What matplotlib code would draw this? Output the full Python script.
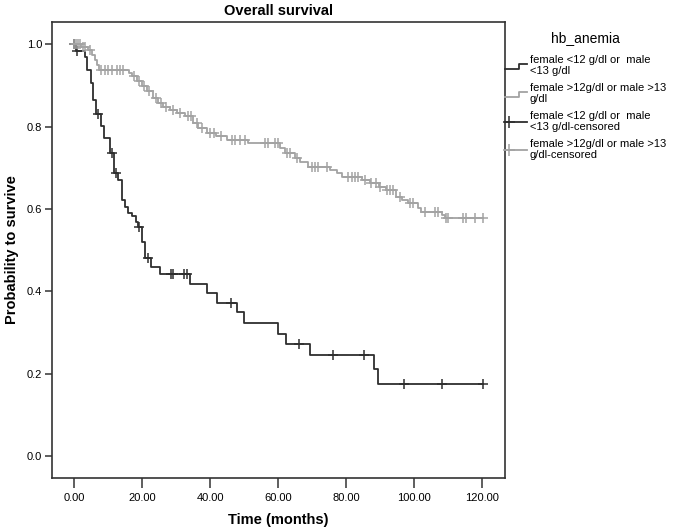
import numpy as np
import matplotlib.pyplot as plt
from matplotlib.lines import Line2D
from matplotlib.legend_handler import HandlerBase

plt.rcParams['font.family'] = ['Liberation Sans', 'DejaVu Sans']

# Kaplan-Meier steps: time of drop and survival after the drop
low_t = [0, 0.6, 3.1, 3.8, 4.8, 5.6, 6.4, 8.0, 8.8, 10.5, 11.7, 12.8, 14.1, 14.9,
         15.9, 16.9, 18.1, 18.8, 19.8, 20.8, 22.7, 25.2, 34.0, 38.9, 42.0, 47.9,
         50.0, 60.0, 62.2, 69.2, 88.1, 89.2]
low_s = [1.0, 0.983, 0.968, 0.938, 0.906, 0.866, 0.831, 0.801, 0.773, 0.736, 0.688,
         0.671, 0.622, 0.606, 0.590, 0.582, 0.569, 0.557, 0.521, 0.481, 0.460, 0.442,
         0.418, 0.396, 0.371, 0.349, 0.323, 0.297, 0.273, 0.245, 0.211, 0.175]
low_cens = [0.0, 0.9, 7.1, 11.0, 12.2, 19.1, 21.7, 28.3, 29.0, 32.4, 33.2, 46.0,
            66.0, 76.1, 85.1, 96.9, 108.0, 120.2]

high_t = [0, 2.0, 4.0, 5.2, 6.0, 6.8, 7.3, 16.0, 17.0, 18.3, 19.8, 21.3, 23.2, 24.7,
          26.2, 28.1, 30.1, 32.5, 35.0, 36.4, 38.9, 41.8, 44.8, 51.1, 60.4, 62.0,
          65.0, 66.5, 68.8, 75.1, 77.1, 78.6, 84.5, 87.0, 89.5, 91.5, 94.7, 96.2,
          98.1, 101.1, 101.8, 108.0, 108.9]
high_s = [1.0, 0.993, 0.985, 0.975, 0.962, 0.950, 0.938, 0.930, 0.922, 0.910, 0.898,
          0.886, 0.870, 0.857, 0.849, 0.841, 0.833, 0.825, 0.809, 0.797, 0.785, 0.777,
          0.768, 0.760, 0.748, 0.735, 0.723, 0.715, 0.703, 0.695, 0.687, 0.679, 0.671,
          0.663, 0.654, 0.646, 0.630, 0.622, 0.614, 0.602, 0.594, 0.586, 0.578]
high_cens = [0.0, 0.5, 1.0, 1.6, 2.6, 3.2, 4.5, 8.0, 9.0, 10.0, 11.0, 12.5, 13.4, 14.4,
             17.5, 19.0, 20.5, 22.0, 24.0, 25.5, 27.0, 29.0, 31.0, 33.5, 34.3, 36.0,
             37.5, 40.0, 41.0, 43.0, 46.3, 47.2, 48.7, 50.2, 56.0, 57.0, 59.0, 60.0,
             62.5, 63.5, 65.5, 69.8, 70.7, 71.7, 74.2, 80.5, 81.5, 82.5, 83.5, 85.6,
             87.2, 88.6, 90.0, 91.8, 92.8, 93.6, 95.7, 98.6, 99.6, 103.1, 106.0, 107.0,
             109.4, 109.9, 114.3, 115.3, 117.8, 120.2]

labels = ['female <12 g/dl or  male\n<13 g/dl',
          'female >12g/dl or male >13\ng/dl',
          'female <12 g/dl or  male\n<13 g/dl-censored',
          'female >12g/dl or male >13\ng/dl-censored']
x_ticks = [0, 20, 40, 60, 80, 100, 120]
y_ticks = [0.0, 0.2, 0.4, 0.6, 0.8, 1.0]

DARK = '#2e2e2e'
LIGHT = '#a3a3a3'


def surv_at(ts, ss, tc):
    idx = np.searchsorted(ts, tc, side='right') - 1
    return np.asarray(ss)[idx]


class StepHandler(HandlerBase):
    def create_artists(self, legend, orig, xd, yd, w, h, fontsize, trans):
        xs = [xd, xd + 0.65 * w, xd + 0.65 * w, xd + w]
        ys = [yd + 0.05 * h, yd + 0.05 * h, yd + 0.65 * h, yd + 0.65 * h]
        ln = Line2D(xs, ys, color=orig.get_color(), lw=orig.get_linewidth(), transform=trans)
        return [ln]


class CensorHandler(HandlerBase):
    def create_artists(self, legend, orig, xd, yd, w, h, fontsize, trans):
        ln = Line2D([xd, xd + w], [yd + 0.45 * h] * 2, color=orig.get_color(),
                    lw=orig.get_linewidth(), transform=trans)
        mk = Line2D([xd + 0.2 * w], [yd + 0.45 * h], marker='+', ms=8, mew=1.1,
                    color=orig.get_color(), ls='none', transform=trans)
        return [ln, mk]


fig = plt.figure(figsize=(6.78, 5.32), dpi=100)
ax = fig.add_axes([0.0767, 0.1015, 0.668, 0.857])

handles = []
for ts, ss, cens, col in [(low_t, low_s, low_cens, DARK), (high_t, high_s, high_cens, LIGHT)]:
    t_end = max(cens)
    line, = ax.step(list(ts) + [t_end], list(ss) + [ss[-1]], where='post', color=col, lw=1.3)
    handles.append(line)
for ts, ss, cens, col in [(low_t, low_s, low_cens, DARK), (high_t, high_s, high_cens, LIGHT)]:
    ax.plot(cens, surv_at(ts, ss, cens), ls='none', marker='+', ms=7, mew=1.1, color=col)
    handles.append(Line2D([], [], color=col, lw=1.3))

ax.set_xlim(-6.55, 126.6)
ax.set_ylim(-0.053, 1.054)
ax.set_xticks(x_ticks)
ax.set_xticklabels(['%.2f' % v for v in x_ticks])
ax.set_yticks(y_ticks)
ax.set_yticklabels(['%.1f' % v for v in y_ticks])
ax.tick_params(axis='x', length=7, width=1.1, color='#333333', labelsize=8, pad=4)
ax.tick_params(axis='y', length=5, width=1.1, color='#333333', labelsize=8, pad=2)
for sp in ax.spines.values():
    sp.set_color('#333333')
    sp.set_linewidth(1.2)

ax.set_title('Overall survival', fontsize=10.5, fontweight='bold', pad=5)
ax.set_xlabel('Time (months)', fontsize=10.5, fontweight='bold', labelpad=7)
ax.set_ylabel('Probability to survive', fontsize=10.5, fontweight='bold', labelpad=6)

leg = ax.legend(handles, labels, title='hb_anemia', loc='upper left',
                bbox_to_anchor=(1.0, 0.98), frameon=False, fontsize=8,
                title_fontsize=10, handlelength=2.0, handletextpad=0.25,
                labelspacing=0.6, borderaxespad=0, borderpad=0,
                handler_map={handles[0]: StepHandler(), handles[1]: StepHandler(),
                             handles[2]: CensorHandler(), handles[3]: CensorHandler()})
leg._legend_box.sep = 7
for txt in leg.get_texts():
    txt.set_linespacing(1.15)

fig.savefig('out.png', dpi=100)
